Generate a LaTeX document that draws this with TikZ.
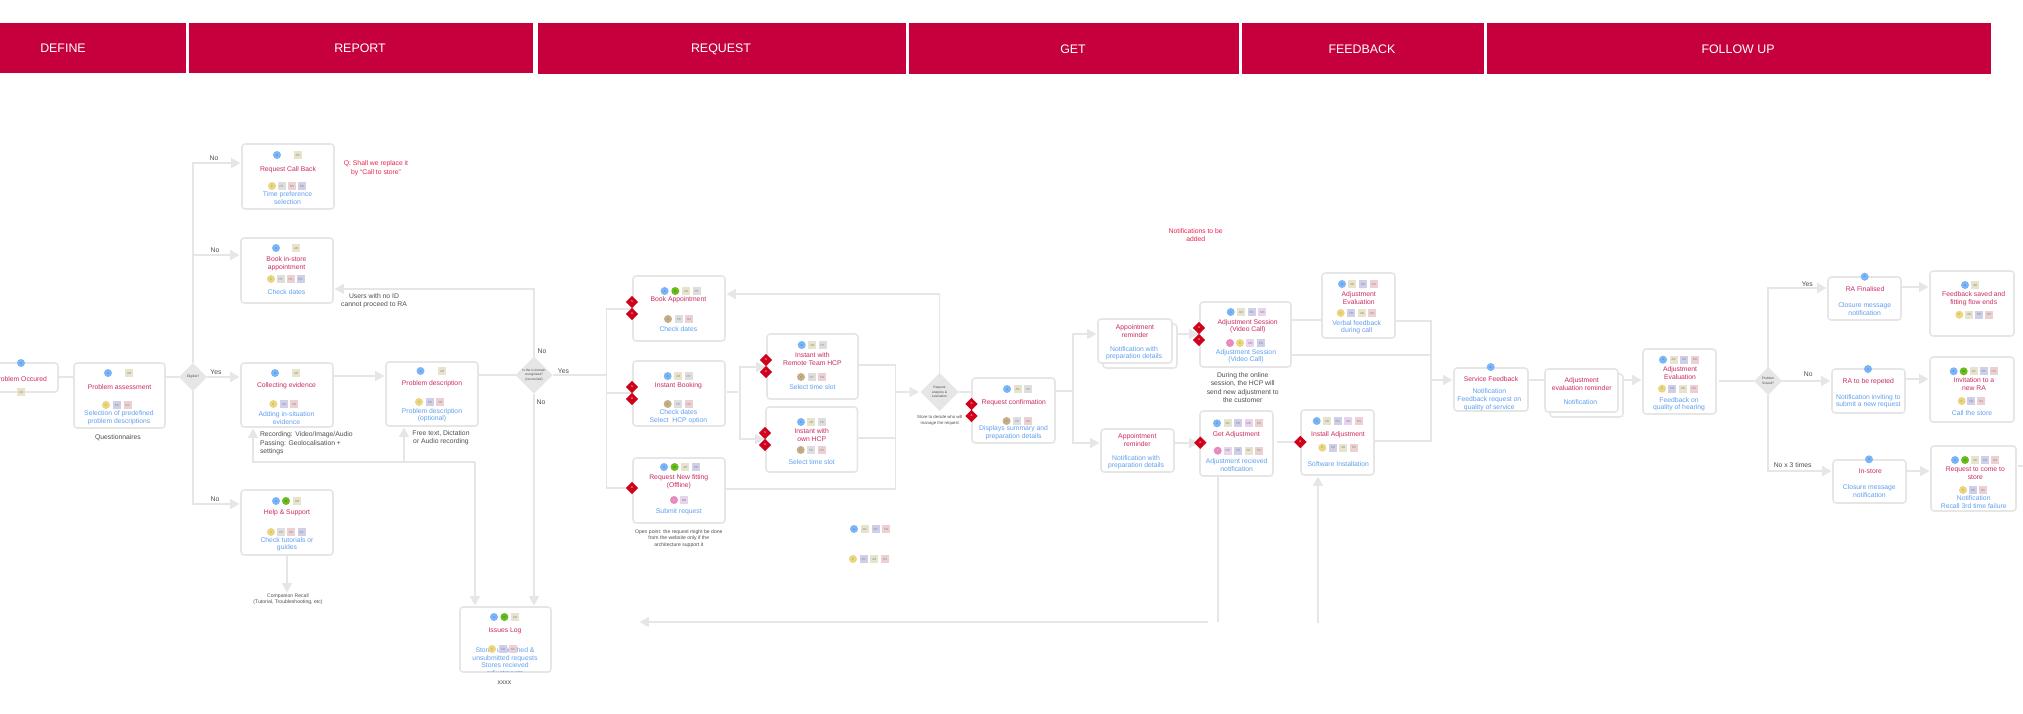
\documentclass[tikz,border=0pt]{standalone}
\usepackage{fontspec}
\setmainfont{Liberation Sans}
\usetikzlibrary{arrows.meta,shapes.geometric,calc}
\definecolor{bar}{HTML}{C5003D}
\definecolor{lin}{HTML}{E6E6E6}
\definecolor{ttl}{HTML}{CB2A62}
\definecolor{dsc}{HTML}{5F9FEE}
\definecolor{nte}{HTML}{4D4D4D}
\definecolor{rnt}{HTML}{E8234D}
\definecolor{rdm}{HTML}{D0021B}
\definecolor{cA}{HTML}{7AB5F5}
\definecolor{cW}{HTML}{68BC1E}
\definecolor{cE}{HTML}{EAD67E}
\definecolor{cP}{HTML}{C4AE85}
\definecolor{cF}{HTML}{EA88BE}
\definecolor{cAB}{HTML}{E7E4CB}
\definecolor{cPE}{HTML}{DEDEDE}
\definecolor{cNS}{HTML}{ECD0D2}
\definecolor{cEB}{HTML}{CFCFEA}
\definecolor{cMB}{HTML}{E8D4EE}
\newcount\bdgn
\newcount\txtn
\newcommand{\crd}[5]{\pgfmathsetmacro\cw{(#4-#2)*0.5}\pgfmathsetmacro\ch{(#5-#3)*0.5}\node[crdst,minimum width=\cw pt,minimum height=\ch pt] (#1) at ({(#2+#4)/2},{(#3+#5)/2}) {};}
\newcommand{\hdrbar}[5]{\pgfmathsetmacro\cw{(#4-#2)*0.5}\pgfmathsetmacro\ch{(#5-#3)*0.5}\node[hdr,minimum width=\cw pt,minimum height=\ch pt] (#1) at ({(#2+#4)/2},{(#3+#5)/2}) {};}
\newcommand{\tx}[4]{\global\advance\txtn by 1 \node[#1] (t\the\txtn) at (#2,#3) {#4};}
\newcommand{\bd}[4]{\global\advance\bdgn by 1 \node[#1] (b\the\bdgn) at (#2,#3) {#4};}
\newcommand{\row}[2]{\foreach \s/\l/\x in {#2}{\bd{\s}{\x}{#1}{\l}}}
\tikzset{
  x=0.5pt,y=-0.5pt,
  crdst/.style={draw=lin,line width=0.8pt,fill=white,rounded corners=1.6pt,inner sep=0pt,outer sep=0pt},
  hdr/.style={fill=bar,inner sep=0pt,outer sep=0pt},
  htx/.style={text=white,font=\fontsize{6.2}{7}\selectfont,inner sep=0pt},
  ti/.style={text=ttl,font=\fontsize{3.4}{3.9}\selectfont,align=center,inner sep=0pt,yshift=-0.4pt},
  de/.style={text=dsc,font=\fontsize{3.4}{3.85}\selectfont,align=center,inner sep=0pt,yshift=-0.4pt},
  no/.style={text=nte,font=\fontsize{3.4}{4.1}\selectfont,align=center,inner sep=0pt,yshift=-0.4pt},
  nl/.style={no,align=left,anchor=west},
  sm/.style={text=nte,font=\fontsize{2.55}{3.05}\selectfont,align=center,inner sep=0pt,yshift=-0.3pt},
  st/.style={text=nte,font=\fontsize{2.15}{3}\selectfont,align=center,inner sep=0pt,yshift=-0.3pt},
  rn/.style={text=rnt,font=\fontsize{3.4}{4.1}\selectfont,align=center,inner sep=0pt,yshift=-0.4pt},
  gd/.style={diamond,aspect=1,fill=lin,inner sep=0pt,outer sep=0pt,text=nte,align=center,font=\fontsize{1.65}{2.35}\selectfont},
  rd/.style={diamond,aspect=1,fill=rdm,inner sep=0pt,outer sep=0pt,minimum size=6.2pt,text=white,font=\fontsize{1.4}{1.6}\selectfont},
  cb/.style={circle,inner sep=0pt,outer sep=0pt,minimum size=4pt,font=\fontsize{1.5}{1.7}\selectfont},
  bA/.style={cb,fill=cA,text=blue!40!cA},
  bW/.style={cb,fill=cW,text=green!30!black!50!cW},
  bE/.style={cb,fill=cE,text=black!25!cE},
  bP/.style={cb,fill=cP,text=black!25!cP},
  bF/.style={cb,fill=cF,text=white!40!cF},
  sq/.style={rectangle,inner sep=0pt,outer sep=0pt,minimum size=4pt,text=black!45,font=\fontsize{1.5}{1.7}\selectfont},
  sAB/.style={sq,fill=cAB},
  sPE/.style={sq,fill=cPE},
  sNS/.style={sq,fill=cNS},
  sEB/.style={sq,fill=cEB},
  sMB/.style={sq,fill=cMB},
  con/.style={draw=lin,line width=0.7pt},
  arr/.style={con,-{Triangle[length=4.6pt,width=5pt,fill=lin]},shorten >=0.8pt},
}
\begin{document}
\begin{tikzpicture}
\useasboundingbox (0,0) rectangle (2023,713);
% header bars
\hdrbar{hA}{-2}{22.5}{186}{73}
\hdrbar{hB}{189}{22.5}{533}{73}
\hdrbar{hC}{538}{23}{906}{73.5}
\hdrbar{hD}{909}{23}{1239}{73.5}
\hdrbar{hE}{1241.5}{23}{1484}{73.5}
\hdrbar{hF}{1486.5}{23}{1991}{73.5}
\tx{htx}{63}{48}{DEFINE}
\tx{htx}{360}{48}{REPORT}
\tx{htx}{721}{49}{REQUEST}
\tx{htx}{1073}{49}{GET}
\tx{htx}{1362}{49}{FEEDBACK}
\tx{htx}{1738}{49}{FOLLOW UP}
% cards
\crd{po}{-40}{363}{58}{392}
\crd{pa}{74}{363}{165}{428}
\crd{rcb}{242}{144}{334}{209}
\crd{bis}{241}{238}{333}{303}
\crd{col}{241}{363}{333}{427}
\crd{pde}{386}{362}{478}{426}
\crd{hlp}{241}{490}{333}{555}
\crd{iss}{460}{607}{551}{672}
\crd{ba}{633}{276}{725}{341}
\crd{ib}{633}{361}{725}{426}
\crd{rnf}{633}{458}{725}{523}
\crd{rem}{767}{334}{858}{399}
\crd{own}{766}{407}{857.5}{472}
\crd{cnf}{972}{378}{1055}{443}
\crd{apb}{1103}{324}{1177}{368}
\crd{ap1}{1098}{319}{1172}{363}
\crd{ap2}{1101}{429}{1174}{472}
\crd{ses}{1200}{302}{1291}{367}
\crd{evl}{1322}{273}{1395}{338}
\crd{get}{1200}{411}{1273}{476}
\crd{ins}{1301}{410}{1374}{475}
\crd{svc}{1454}{368}{1528}{411}
\crd{rmb}{1550}{374}{1623}{417}
\crd{rmf}{1545}{369}{1618}{412}
\crd{ev2}{1643}{349}{1716}{414}
\crd{ra1}{1828}{277}{1901}{320}
\crd{ra2}{1832}{369}{1905}{413}
\crd{ist}{1833}{460}{1906}{503}
\crd{fsv}{1930}{271}{2014}{336}
\crd{inv}{1930}{357}{2014}{422}
\crd{cmt}{1931}{446}{2016}{511}
% grey decisions
\node[gd,minimum size=14pt] (d1) at (193,377) {Eligible?};
\node[gd,minimum size=18.5pt] (d2) at (534,375) {Is the is domain\\recognised?\\(reconciled)};
\node[gd,minimum size=19pt] (d3) at (939.5,392) {Request\\analysis \&\\evaluation};
\node[gd,minimum size=14pt] (d4) at (1768,381) {Problem\\Solved?};
% connectors
\coordinate (j1t) at (193,163);
\coordinate (j1m) at (193,255);
\coordinate (j1b) at (193,504);
\draw[con] (po.east |- 0,377) -- (pa.west |- 0,377);
\draw[con] (pa.east |- 0,377) -- (d1.west);
\draw[arr] (d1.north) -- (j1t) -- (rcb.west |- j1t);
\draw[arr] (j1m) -- (bis.west |- j1m);
\draw[arr] (d1.east) -- (col.west |- d1.east);
\draw[arr] (d1.south) -- (j1b) -- (hlp.west |- j1b);
\coordinate (hn) at (287,594);
\draw[arr] (hlp.south) -- (hn);
\draw[arr] (col.east |- 0,376) -- (pde.west |- 0,376);
\draw[con] (pde.east |- 0,375) -- (d2.west);
\coordinate (d2t) at (534,289);
\draw[arr] (d2.north) -- (d2t) -- (bis.east |- d2t);
\draw[arr] (d2.south) -- (d2.south |- iss.north);
\coordinate (f1) at (475,462);
\coordinate (f2) at (253,462);
\coordinate (f3) at (404,462);
\draw[arr] (f1) -- (f1 |- iss.north);
\draw[arr] (f1) -- (f2) -- (f2 |- col.south);
\draw[arr] (f3) -- (f3 |- pde.south);
\coordinate (j2) at (606.5,375);
\coordinate (j2t) at (606.5,309);
\coordinate (j2m) at (606.5,393);
\coordinate (j2b) at (606.5,488);
\draw[con] (d2.east) -- (j2);
\draw[con] (ba.west |- j2t) -- (j2t) -- (j2b) -- (rnf.west |- j2b);
\draw[con] (j2m) -- (ib.west |- j2m);
\coordinate (j3a) at (738,392);
\coordinate (j3t) at (740,367);
\coordinate (j3b) at (740,439);
\draw[con] ([xshift=1pt]ib.east |- j3a) -- (j3a);
\draw[arr] (j3b) -- (j3t) -- (rem.west |- j3t);
\draw[arr] (j3t) -- (j3b) -- (own.west |- j3b);
\coordinate (j4) at (895.5,392);
\draw[con] (rem.east |- 0,365) -- (895.5,365) -- (895.5,489) -- (rnf.east |- 0,489);
\draw[con] (own.east |- 0,438) -- (895.5,438);
\draw[arr] (j4) -- (d3.west);
\coordinate (d3t) at (939.5,294);
\draw[arr] (d3.north) -- (d3t) -- (ba.east |- d3t);
\draw[con] (d3.east) -- (cnf.west |- d3.east);
\coordinate (j5) at (1073,391);
\coordinate (j5t) at (1073,334);
\coordinate (j5b) at (1073,443);
\draw[con] (cnf.east |- j5) -- (j5);
\draw[arr] (j5) -- (j5t) -- (ap1.west |- j5t);
\draw[arr] (j5) -- (j5b) -- (ap2.west |- j5b);
\draw[arr] (apb.east |- 0,334) -- (ses.west |- 0,334);
\draw[arr] (ap2.east |- 0,443) -- (get.west |- 0,443);
\draw[con] (ses.east |- 0,320) -- (evl.west |- 0,320);
\coordinate (j6t) at (1431,321);
\coordinate (j6m) at (1431,355);
\coordinate (j6a) at (1431,380);
\coordinate (j6b) at (1431,441);
\draw[con] (ses.east |- j6m) -- (j6m);
\draw[con] (evl.east |- j6t) -- (j6t) -- (j6b) -- (ins.east |- j6b);
\draw[arr] (j6a) -- (svc.west |- j6a);
\draw[con] ([xshift=2pt]get.east |- 0,442) -- (ins.west |- 0,442);
\draw[con] (svc.east |- 0,380) -- (rmf.west |- 0,380);
\draw[arr] (rmb.east |- 0,380) -- (ev2.west |- 0,380);
\draw[con] ([xshift=1.5pt]ev2.east |- d4.west) -- (d4.west);
\coordinate (d4t) at (1768,288);
\coordinate (d4b) at (1768,471);
\draw[arr] (d4.north) -- (d4t) -- (ra1.west |- d4t);
\draw[arr] (d4.east) -- (ra2.west |- d4.east);
\draw[arr] (d4.south) -- (d4b) -- (ist.west |- d4b);
\draw[arr] (ra1.east |- 0,287) -- (fsv.west |- 0,287);
\draw[arr] (ra2.east |- 0,379) -- (inv.west |- 0,379);
\draw[arr] (ist.east |- 0,471) -- (cmt.west |- 0,471);
\coordinate (stub) at (2023,466);
\draw[con] ([xshift=1pt]cmt.east |- stub) -- (stub);
\coordinate (g1) at (1218,622);
\coordinate (g2) at (1208,622);
\coordinate (g3) at (638,622);
\coordinate (g4) at (1318,622.5);
\draw[con] (get.south -| g1) -- (g1);
\draw[arr] (g2) -- (g3);
\draw[arr] (g4) -- (g4 |- ins.south);
% red diamonds
\node[rd] (r1) at (632,302) {S};
\node[rd] (r2) at (632,314) {A};
\node[rd] (r3) at (632,387) {S};
\node[rd] (r4) at (632,399) {A};
\node[rd] (r5) at (632,488) {A};
\node[rd] (r6) at (766,360) {S};
\node[rd] (r7) at (766,372) {A};
\node[rd] (r8) at (765,433) {S};
\node[rd] (r9) at (765,445) {A};
\node[rd] (r10) at (971.5,404) {S};
\node[rd] (r11) at (971.5,416) {A};
\node[rd] (r12) at (1199,328) {S};
\node[rd] (r13) at (1199,340) {A};
\node[rd] (r14) at (1200.3,442.7) {A};
\node[rd] (r15) at (1300.3,442) {A};
% problem occured
\tx{ti}{20.5}{378}{Problem Occured}
\row{363}{bA/A/21}
\row{392}{sAB/AB/21}
% problem assessment
\row{373}{bA/A/108,sAB/AB/129}
\tx{ti}{119.5}{386}{Problem assessment}
\tx{de}{119}{417}{Selection of predefined\\problem descriptions}
\row{405}{bE/E/106,sEB/EB/117,sNS/NS/127.5}
\tx{no}{118}{437}{Questionnaires}
% request call back
\row{155}{bA/A/277,sAB/AB/297.5}
\tx{ti}{288}{169}{Request Call Back}
\row{186}{bE/E/272,sPE/PE/281.5,sNS/NS/292,sEB/EB/302}
\tx{de}{287.5}{197}{Time preference\\selection}
\tx{rn}{376}{167.5}{Q: Shall we replace it\\by “Call to store”}
% book in-store
\row{248}{bA/A/276,sAB/AB/296}
\tx{ti}{286.5}{263}{Book in-store\\appointment}
\row{279}{bE/E/271,sPE/PE/280.6,sNS/NS/290.6,sEB/EB/300.6}
\tx{de}{286.5}{291}{Check dates}
\tx{no}{374}{300}{Users with no ID\\cannot proceed to RA}
% collecting
\row{373}{bA/A/275,sAB/AB/296}
\tx{ti}{286.5}{385}{Collecting evidence}
\row{404}{bE/E/273.4,sEB/EB/284,sNS/NS/294.4}
\tx{de}{286.5}{417}{Adding in-situation\\evidence}
\tx{nl}{259.6}{442.5}{Recording: Video/Image/Audio\\Passing: Geolocalisation +\\settings}
% problem description
\row{371}{bA/A/420.5,sAB/AB/442}
\tx{ti}{432}{383}{Problem description}
\row{402}{bE/E/419,sEB/EB/430,sNS/NS/440.4}
\tx{de}{432}{414.5}{Problem description\\(optional)}
\tx{no}{441}{437}{Free text, Dictation\\or Audio recording}
% help
\row{501}{bA/A/276,bW/W/286,sAB/AB/297}
\tx{ti}{287}{512}{Help \& Support}
\row{532}{bE/E/271,sPE/PE/281,sNS/NS/291,sEB/EB/301.6}
\tx{de}{287}{543.5}{Check tutorials or\\guides}
\tx{sm}{288}{599}{Companion Recall\\(Tutorial, Troubleshooting, etc)}
% issues log
\row{617}{bA/A/494,bW/W/504.4,sAB/AB/515}
\tx{ti}{505}{630}{Issues Log}
\begin{scope}
\clip (461,640) rectangle (550,671);
\tx{de}{505}{661.5}{Stores unfinished \&\\unsubmitted requests\\Stores recieved\\adjustments}
\end{scope}
\row{649}{bE/E/492,sEB/EB/503,sNS/NS/513}
\tx{no}{504.4}{682}{xxxx}
% labels on the first decisions
\tx{no}{214}{157}{No}
\tx{no}{215}{249}{No}
\tx{no}{216}{371}{Yes}
\tx{no}{215}{498}{No}
\tx{no}{563.4}{370}{Yes}
\tx{no}{542}{350}{No}
\tx{no}{541}{401}{No}
% book appointment
\row{291}{bA/A/664.6,bW/W/675.3,sAB/AB/686,sPE/PE/696.7}
\tx{ti}{678.4}{299}{Book Appointment}
\row{319}{bP/P/668,sPE/PE/679,sNS/NS/689}
\tx{de}{678.4}{328}{Check dates}
% instant booking
\row{376}{bA/A/667.7,sAB/AB/678.4,sPE/PE/688.7}
\tx{ti}{678.4}{385}{Instant Booking}
\row{404}{bP/P/667.7,sPE/PE/678,sNS/NS/688.7}
\tx{de}{678.4}{416}{Check dates\\Select\ \ HCP option}
% new fitting
\row{467}{bA/A/664,bW/W/674.6,sAB/AB/685.3,sEB/EB/696}
\tx{ti}{678.8}{481}{Request New fitting\\(Offline)}
\row{500}{bF/F/674,sMB/MB/684}
\tx{de}{678.8}{511}{Submit request}
\tx{sm}{678.8}{538}{Open point: the request might be done\\from the website only if the\\architecture support it}
% remote
\row{345}{bA/A/801.7,sAB/AB/812.4,sPE/PE/822.7}
\tx{ti}{812.4}{358}{Instant with\\Remote Team HCP}
\row{377}{bP/P/801,sPE/PE/811.7,sNS/NS/822.4}
\tx{de}{812.4}{386}{Select time slot}
% own
\row{422}{bA/A/801,sAB/AB/811.3,sPE/PE/822}
\tx{ti}{811.7}{434.5}{Instant with\\own HCP}
\row{450}{bP/P/800.7,sPE/PE/811,sNS/NS/821.7}
\tx{de}{811.7}{461}{Select time slot}
\tx{st}{939.8}{420}{Store to decide who will\\manage the request}
% confirmation
\row{389}{bA/A/1007,sAB/AB/1017.6,sPE/PE/1028.3}
\tx{ti}{1013.8}{402}{Request confirmation}
\row{421}{bP/P/1006.6,sPE/PE/1017.3,sNS/NS/1028}
\tx{de}{1013.5}{432}{Displays summary and\\preparation details}
% loose badges
\row{529}{bA/A/854,sAB/AB/864.7,sEB/EB/875.7,sNS/NS/886.4}
\row{559}{bE/E/853,sEB/EB/863.7,sAB/AB/874.4,sNS/NS/885}
% appointment reminders
\tx{rn}{1195.7}{234}{Notifications to be\\added}
\tx{ti}{1135}{330}{Appointment\\reminder}
\tx{de}{1134}{352.5}{Notification with\\preparation details}
\tx{ti}{1137.3}{439.5}{Appointment\\reminder}
\tx{de}{1136}{461.5}{Notification with\\preparation details}
% session
\row{312}{bA/A/1230.7,sAB/AB/1241,sEB/EB/1251.7,sMB/MB/1262.3}
\tx{ti}{1247.7}{325.5}{Adjustment Session\\(Video Call)}
\row{343}{bF/F/1230,bE/E/1240,sMB/MB/1250.3,sEB/EB/1261}
\tx{de}{1246}{355.5}{Adjustment Session\\(Video Call)}
\tx{no}{1242.7}{386.7}{During the online\\session, the HCP will\\send new adjustment to\\the customer}
% evaluation
\row{284}{bA/A/1342,sAB/AB/1352.3,sEB/EB/1363,sNS/NS/1373.7}
\tx{ti}{1358.7}{297}{Adjustment\\Evaluation}
\row{313}{bE/E/1340.7,sEB/EB/1351.3,sAB/AB/1362,sNS/NS/1372.3}
\tx{de}{1356.7}{326.5}{Verbal feedback\\during call}
% service
\row{367}{bA/A/1490.7}
\tx{ti}{1491}{378.7}{Service Feedback}
\tx{de}{1489.3}{399}{Notification\\Feedback request on\\quality of service}
% get
\row{423.3}{bA/A/1217,sAB/AB/1227.7,sEB/EB/1238,sMB/MB/1248.7,sNS/NS/1259}
\tx{ti}{1236.3}{434.3}{Get Adjustment}
\row{450.7}{bF/F/1217.7,sMB/MB/1227.7,sEB/EB/1238.3,sAB/AB/1248.7,sNS/NS/1259}
\tx{de}{1236.7}{464}{Adjustment recieved\\notification}
% install
\row{421}{bA/A/1316.7,sAB/AB/1327,sEB/EB/1337.7,sMB/MB/1348.3,sNS/NS/1359}
\tx{ti}{1338}{433.7}{Install Adjustment}
\row{447.7}{bE/E/1322.3,sEB/EB/1333,sAB/AB/1343.3,sNS/NS/1354}
\tx{de}{1338.3}{463.3}{Software Installation}
% reminder
\tx{ti}{1581.7}{383.5}{Adjustment\\evaluation reminder}
\tx{de}{1580.3}{401.7}{Notification}
% evaluation 2
\row{359.7}{bA/A/1663,sAB/AB/1673.7,sEB/EB/1684,sNS/NS/1695}
\tx{ti}{1680}{372.5}{Adjustment\\Evaluation}
\row{388.7}{bE/E/1662,sEB/EB/1672.3,sAB/AB/1683,sNS/NS/1693.7}
\tx{de}{1679}{403.5}{Feedback on\\quality of hearing}
% decision labels
\tx{no}{1807.3}{283.3}{Yes}
\tx{no}{1808.3}{373.3}{No}
\tx{no}{1792.7}{464.3}{No x 3 times}
% RA finalised
\row{276.7}{bA/A/1864.7}
\tx{ti}{1865}{288.3}{RA Finalised}
\tx{de}{1864.7}{308}{Closure message\\notification}
% RA repeated
\row{369}{bA/A/1868}
\tx{ti}{1868.3}{380.7}{RA to be repeted}
\tx{de}{1868.3}{400.5}{Notification inviting to\\submit a new request}
% in-store
\row{459.3}{bA/A/1869}
\tx{ti}{1870.3}{470.7}{In-store}
\tx{de}{1869.3}{490.5}{Closure message\\notification}
% feedback saved
\row{285}{bA/A/1965,sAB/AB/1975}
\tx{ti}{1973.7}{297.7}{Feedback saved and\\fitting flow ends}
\row{314.7}{bE/E/1959.3,sAB/AB/1969,sEB/EB/1979,sNS/NS/1989}
% invitation
\row{371.3}{bA/A/1953.7,bW/W/1963.7,sAB/AB/1973.7,sEB/EB/1983.7,sNS/NS/1993.7}
\tx{ti}{1974}{383.5}{Invitation to a\\new RA}
\row{401}{bE/E/1961.7,sEB/EB/1971.3,sNS/NS/1981.3}
\tx{de}{1972}{412.3}{Call the store}
% come to store
\row{460}{bA/A/1955,bW/W/1965,sAB/AB/1975,sEB/EB/1985.3,sNS/NS/1995.3}
\tx{ti}{1975.3}{472.5}{Request to come to\\store}
\row{490}{bE/E/1963,sEB/EB/1973,sNS/NS/1983}
\tx{de}{1973.7}{501.5}{Notification\\Recall 3rd time failure}
\end{tikzpicture}
\end{document}
